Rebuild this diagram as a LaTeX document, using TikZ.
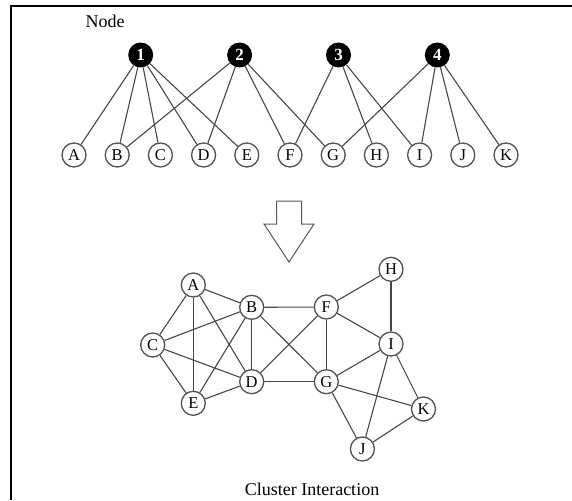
\documentclass[tikz,border=0pt]{standalone}
\usepackage{fontspec}
\setmainfont{Liberation Serif}
\usepackage{tikz}
\usetikzlibrary{positioning,shapes,arrows.meta,shapes.geometric}

\begin{document}
\begin{tikzpicture}[x=1pt,y=-1pt,
    hub/.style={circle, fill=black, minimum size=25pt, inner sep=0pt, text=white, font=\fontsize{17}{17}\selectfont\bfseries},
    item/.style={circle, draw=black!68, line width=1.3pt, fill=white, minimum size=24pt, inner sep=0pt, font=\fontsize{16.5}{16.5}\selectfont},
    link/.style={draw=black!72, line width=1.1pt},
    caption/.style={font=\fontsize{18}{18}\selectfont}]
    \useasboundingbox (0,0) rectangle (572,500);
    % frame
    \draw[line width=2pt] (10.5,500) -- (10.5,6) -- (572,6);
    \node[caption] (title) at (105,21) {Node};

    % top: hubs and members
    \node[hub] (t1) at (140.7,55) {1};
    \node[hub] (t2) at (239.6,55) {2};
    \node[hub] (t3) at (338.5,55) {3};
    \node[hub] (t4) at (437.3,55) {4};

    \node[item] (rA) at (74,155) {A};
    \node[item] (rB) at (117.2,155) {B};
    \node[item] (rC) at (160.4,155) {C};
    \node[item] (rD) at (203.6,155) {D};
    \node[item] (rE) at (246.8,155) {E};
    \node[item] (rF) at (290,155) {F};
    \node[item] (rG) at (333.2,155) {G};
    \node[item] (rH) at (376.4,155) {H};
    \node[item] (rI) at (419.6,155) {I};
    \node[item] (rJ) at (462.8,155) {J};
    \node[item] (rK) at (506,155) {K};

    \draw[link] (t1) -- (rA);
    \draw[link] (t1) -- (rB);
    \draw[link] (t1) -- (rC);
    \draw[link] (t1) -- (rD);
    \draw[link] (t1) -- (rE);
    \draw[link] (t2) -- (rB);
    \draw[link] (t2) -- (rD);
    \draw[link] (t2) -- (rF);
    \draw[link] (t2) -- (rG);
    \draw[link] (t3) -- (rF);
    \draw[link] (t3) -- (rH);
    \draw[link] (t3) -- (rI);
    \draw[link] (t4) -- (rG);
    \draw[link] (t4) -- (rI);
    \draw[link] (t4) -- (rJ);
    \draw[link] (t4) -- (rK);

    % hollow down arrow
    \draw[draw=black!65, line width=1pt, line join=miter]
        (276.5,201) -- (301.5,201) -- (301.5,224) -- (314,224) -- (289,262)
        -- (264,224) -- (276.5,224) -- cycle;

    % bottom: cluster graph
    \node[item] (gA) at (193.3,285) {A};
    \node[item] (gB) at (251.7,307.3) {B};
    \node[item] (gC) at (152.7,345) {C};
    \node[item] (gD) at (251.7,381.7) {D};
    \node[item] (gE) at (193.3,403.3) {E};
    \node[item] (gF) at (326.3,307) {F};
    \node[item] (gG) at (326.3,381.7) {G};
    \node[item] (gH) at (391,269.3) {H};
    \node[item] (gI) at (391,344) {I};
    \node[item] (gJ) at (362.4,449) {J};
    \node[item] (gK) at (423.5,409) {K};

    \draw[link] (gA) -- (gB);
    \draw[link] (gA) -- (gC);
    \draw[link] (gA) -- (gE);
    \draw[link] (gA) -- (gD);
    \draw[link] (gB) -- (gC);
    \draw[link] (gB) -- (gE);
    \draw[link] (gB) -- (gD);
    \draw[link] (gB) -- (gF);
    \draw[link] (gB) -- (gG);
    \draw[link] (gC) -- (gD);
    \draw[link] (gC) -- (gE);
    \draw[link] (gD) -- (gE);
    \draw[link] (gD) -- (gF);
    \draw[link] (gD) -- (gG);
    \draw[link] (gF) -- (gH);
    \draw[link] (gF) -- (gI);
    \draw[link] (gF) -- (gG);
    \draw[link] (gH) -- (gI);
    \draw[link] (gI) -- (gG);
    \draw[link] (gI) -- (gK);
    \draw[link] (gI) -- (gJ);
    \draw[link] (gG) -- (gK);
    \draw[link] (gG) -- (gJ);
    \draw[link] (gJ) -- (gK);

    \node[caption] (label) at (312,489) {Cluster Interaction};
\end{tikzpicture}
\end{document}
